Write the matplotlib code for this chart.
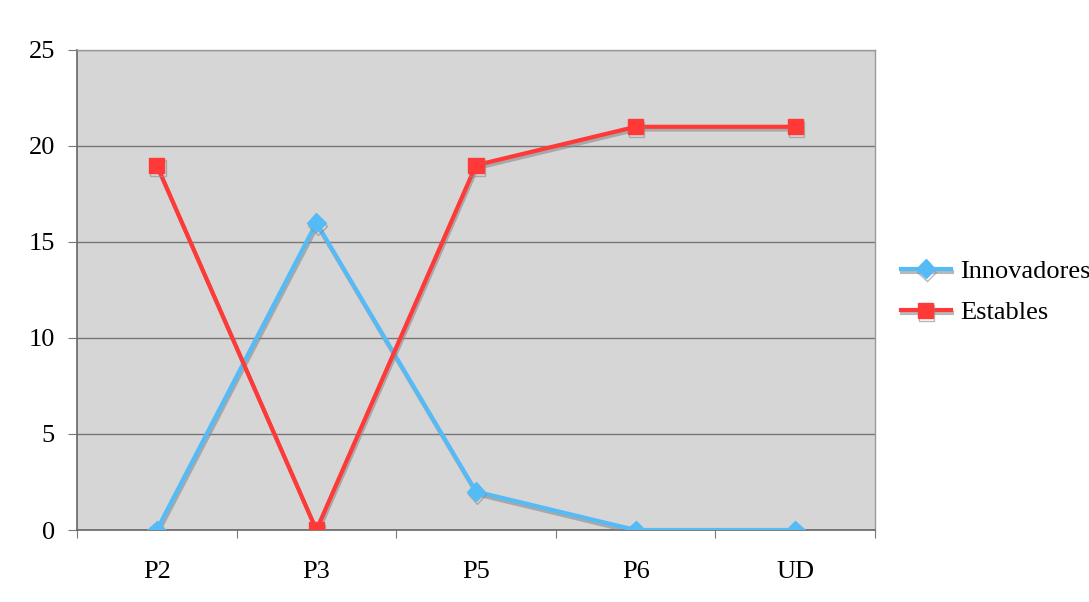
import matplotlib
matplotlib.use("Agg")
import matplotlib.pyplot as plt
import matplotlib.patheffects as pe

categorias = ["P2", "P3", "P5", "P6", "UD"]
innovadores = [0, 16, 2, 0, 0]
estables = [19, 0, 19, 21, 21]
y_ticks = [0, 5, 10, 15, 20, 25]

plt.rcParams['font.family'] = ['Liberation Serif', 'DejaVu Serif']

fig = plt.figure(figsize=(10.89, 6.02), dpi=100)
ax = fig.add_axes([0.0707, 0.1196, 0.7328, 0.7974])
ax.set_facecolor('#d6d6d6')

x = list(range(len(categorias)))
sombra = [pe.SimpleLineShadow(offset=(0.8, -2), shadow_color='#8a8a8a', alpha=0.6), pe.Normal()]

ax.plot(x, innovadores, color='#55bbf7', lw=3, marker='D', markersize=9.5,
        label='Innovadores', path_effects=sombra, zorder=3)
ax.plot(x, estables, color='#ff3838', lw=3, marker='s', markersize=11,
        label='Estables', path_effects=sombra, zorder=4)

ax.set_xlim(-0.5, len(categorias) - 0.5)
ax.set_ylim(0, 25)
ax.set_yticks(y_ticks)
ax.yaxis.grid(True, color='#777777', lw=1)
ax.set_axisbelow(True)

# ticks on x between categories, labels at centres
ax.set_xticks([i - 0.5 for i in range(len(categorias) + 1)])
ax.set_xticklabels([])
ax.set_xticks(x, minor=True)
ax.set_xticklabels(categorias, minor=True)
ax.tick_params(axis='x', which='major', length=6, color='#777777', direction='out')
ax.tick_params(axis='x', which='minor', length=0, pad=22, labelsize=19)
ax.tick_params(axis='y', length=6.5, color='#777777', labelsize=19, pad=9.5)

for s in ['left', 'bottom']:
    ax.spines[s].set_color('#666666')
    ax.spines[s].set_linewidth(1.2)
for s in ['top', 'right']:
    ax.spines[s].set_color('#999999')
    ax.spines[s].set_linewidth(1)

ax.legend(loc='center left', bbox_to_anchor=(0.827, 0.515), bbox_transform=fig.transFigure,
          frameon=False, fontsize=19, handlelength=1.9, labelspacing=0.68,
          handletextpad=0.37, borderpad=0, borderaxespad=0)

plt.savefig('out.png', dpi=100)
